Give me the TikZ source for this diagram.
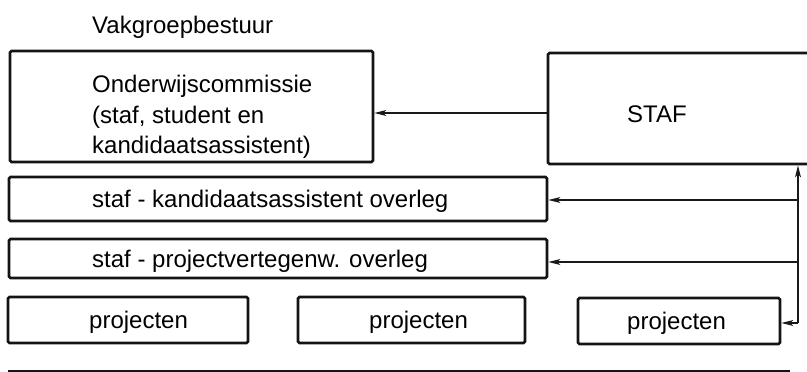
\documentclass[tikz,border=0pt]{standalone}
\usepackage{fontspec}
\setmainfont{Liberation Sans}
\usetikzlibrary{arrows.meta}
\begin{document}
\begin{tikzpicture}[x=1pt,y=-1pt,
  box/.style={draw=black!92, line width=2.8pt, rounded corners=1.5pt, inner sep=0pt},
  lbl/.style={anchor=base west, inner sep=0pt, font=\fontsize{24}{31}\selectfont, text=black},
  arr/.style={draw=black!90, line width=1.5pt, -{Stealth[length=12pt,width=6pt,inset=3pt]}},
  bus/.style={draw=black!90, line width=1.5pt}]
\useasboundingbox (0,0) rectangle (807,372);
\clip (0,0) rectangle (807,372);
\fill[white] (0,0) rectangle (807,372);

% boxes
\node[box, minimum width=363pt, minimum height=111pt] (oc)   at (191.5,106.5) {};
\node[box, minimum width=340pt, minimum height=111pt] (staf) at (718,108.5) {};
\node[box, minimum width=538pt, minimum height=44pt]  (kao)  at (278,199) {};
\node[box, minimum width=538pt, minimum height=39pt]  (pvo)  at (278,258.5) {};
\node[box, minimum width=240pt, minimum height=46pt]  (p1)   at (128,320) {};
\node[box, minimum width=227pt, minimum height=46pt]  (p2)   at (411.5,320) {};
\node[box, minimum width=202pt, minimum height=46pt]  (p3)   at (679,321) {};
\coordinate (lowL) at (8,371);
\coordinate (lowR) at (790,371);
\draw[draw=black!92, line width=2.8pt] (lowL) -- (lowR);

% texts
\node[lbl] (title) at (92,33) {Vakgroepbestuur};
\node[lbl] (oc1) at (92,92) {Onderwijscommissie};
\node[lbl] (oc2) at (92,123) {(staf, student en};
\node[lbl] (oc3) at (92,153) {kandidaatsassistent)};
\node[lbl] (st) at (627,122) {STAF};
\node[lbl] (kaot) at (92,207.5) {staf - kandidaatsassistent overleg};
\node[lbl] (pvot) at (92,267) {staf - projectvertegenw. overleg};
\node[lbl] (p1t) at (89,328) {projecten};
\node[lbl] (p2t) at (369,328) {projecten};
\node[lbl] (p3t) at (627,329) {projecten};

% connectors
\coordinate (busBot) at (798,323);
\draw[arr] (staf.west |- 0,113) -- (oc.east |- 0,113);
\draw[arr] (busBot) -- (busBot |- staf.south);
\draw[arr] (busBot |- 0,200) -- (kao.east |- 0,200);
\draw[arr] (busBot |- 0,262) -- (pvo.east |- 0,262);
\draw[arr] (busBot) -- (p3.east |- busBot);
\end{tikzpicture}
\end{document}
